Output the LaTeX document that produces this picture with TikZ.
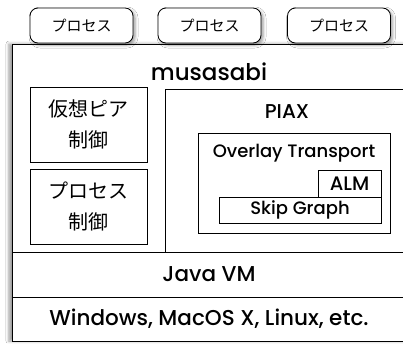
\documentclass[tikz,border=0pt]{standalone}
\usepackage{fontspec}
\setmainfont{Poppins}[UprightFont={* Medium}]
\newfontfamily\jfont{Noto Sans CJK JP}
\usetikzlibrary{shadows.blur}

\begin{document}
\begin{tikzpicture}[
  x=1pt, y=-1pt,
  line width=0.8pt,
  frame/.style={draw, fill=white, inner sep=0pt},
  box/.style={draw, fill=white, inner sep=0pt, align=center},
  tab/.style={draw, fill=white, rounded corners=8pt, inner sep=0pt,
              minimum width=103pt, minimum height=35pt,
              font=\jfont\fontsize{15}{18}\selectfont,
              blur shadow={shadow xshift=2pt, shadow yshift=-2pt, shadow blur radius=3pt}},
  jbox/.style={box, minimum width=117pt, minimum height=75pt,
               font=\jfont\fontsize{20}{31}\selectfont},
  lbl/.style={font=\fontsize{18}{21}\selectfont},
  big/.style={font=\fontsize{21.5}{25}\selectfont},
  title/.style={font=\fontsize{23}{27}\selectfont}
]
\useasboundingbox[fill=white] (0,0) rectangle (403,343);

% main frame
\node[frame, minimum width=394pt, minimum height=297pt,
      blur shadow={shadow xshift=-3pt, shadow yshift=0pt, shadow blur radius=3pt}]
      (musasabi) at (209,192.5) {};
\node[title] (musasabititle) at (209,72) {musasabi};

% processes on top
\node[tab] (proc1) at (81.5,25.5) {プロセス};
\node[tab] (proc2) at (209.5,25.5) {プロセス};
\node[tab] (proc3) at (339,25.5) {プロセス};

% control boxes
\node[jbox] (vpeer) at (88.5,124.5) {仮想ピア\\制御};
\node[jbox] (pctl) at (88.5,206.5) {プロセス\\制御};

% PIAX
\node[frame, minimum width=245pt, minimum height=163pt] (piax) at (287.5,170.5) {};
\node[font=\fontsize{20}{24}\selectfont] (piaxtitle) at (287,112) {PIAX};
\node[box, minimum width=192pt, minimum height=100pt] (overlay) at (294,183) {};
\node[lbl] (overlaytitle) at (294,153) {Overlay Transport};
\node[box, font=\fontsize{19.5}{23}\selectfont, minimum width=63pt, minimum height=27pt] (alm) at (349.5,183.5) {ALM};
\node[box, lbl, minimum width=162pt, minimum height=26pt] (skip) at (300,210) {Skip Graph};

% lower layers
\node[box, big, minimum width=394pt, minimum height=45pt] (javavm) at (209,274.5) {Java VM};
\node[box, big, minimum width=394pt, minimum height=44pt] (os) at (209,319) {Windows, MacOS X, Linux, etc.};

\end{tikzpicture}
\end{document}
